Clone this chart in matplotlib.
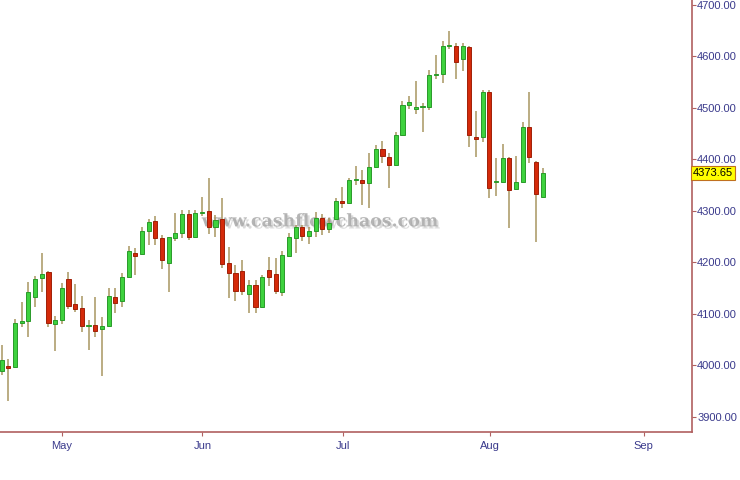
import numpy as np
import matplotlib
matplotlib.use('Agg')
import matplotlib.pyplot as plt
import matplotlib.patheffects as pe

# Dados diários (abertura, máxima, mínima, fechamento)
abertura = [3989, 3999, 3997, 4083, 4085, 4133, 4169, 4182, 4081, 4088,
            4168, 4118, 4111, 4076, 4078, 4070, 4077, 4133, 4125, 4171,
            4218, 4217, 4261, 4280, 4247, 4198, 4248, 4257, 4293, 4250,
            4295, 4300, 4268, 4285, 4198, 4179, 4183, 4138, 4156, 4113,
            4185, 4177, 4143, 4213, 4248, 4268, 4252, 4260, 4286, 4264,
            4284, 4319, 4316, 4359, 4360, 4354, 4385, 4420, 4404, 4389,
            4447, 4506, 4498, 4501, 4501, 4563, 4565, 4621, 4621, 4595,
            4619, 4443, 4444, 4530, 4356, 4357, 4403, 4342, 4357, 4463,
            4395, 4326]
maxima = [4039, 4012, 4089, 4123, 4162, 4173, 4219, 4183, 4096, 4160,
          4181, 4157, 4135, 4088, 4133, 4094, 4151, 4151, 4180, 4232,
          4227, 4268, 4284, 4290, 4253, 4250, 4295, 4302, 4302, 4302,
          4326, 4363, 4292, 4324, 4229, 4195, 4205, 4166, 4166, 4175,
          4210, 4208, 4221, 4256, 4273, 4273, 4268, 4298, 4294, 4287,
          4324, 4347, 4363, 4388, 4379, 4412, 4428, 4436, 4412, 4453,
          4513, 4523, 4552, 4510, 4574, 4602, 4630, 4650, 4626, 4626,
          4621, 4494, 4535, 4535, 4402, 4430, 4405, 4407, 4473, 4531,
          4396, 4384]
minima = [3981, 3931, 3994, 4074, 4055, 4114, 4143, 4074, 4028, 4080,
          4109, 4104, 4065, 4030, 4055, 3979, 4074, 4101, 4113, 4169,
          4175, 4216, 4234, 4234, 4187, 4142, 4241, 4248, 4243, 4248,
          4289, 4255, 4250, 4188, 4130, 4125, 4136, 4101, 4102, 4111,
          4153, 4138, 4135, 4211, 4219, 4241, 4235, 4249, 4254, 4256,
          4282, 4305, 4313, 4350, 4311, 4305, 4383, 4392, 4344, 4388,
          4445, 4498, 4488, 4454, 4496, 4556, 4549, 4615, 4556, 4572,
          4425, 4405, 4434, 4324, 4328, 4355, 4267, 4340, 4355, 4392,
          4239, 4324]
fechamento = [4011, 3995, 4083, 4086, 4142, 4167, 4178, 4083, 4088, 4151,
              4116, 4109, 4077, 4078, 4067, 4076, 4135, 4120, 4172, 4221,
              4213, 4261, 4279, 4247, 4205, 4249, 4256, 4294, 4250, 4295,
              4298, 4268, 4282, 4197, 4179, 4144, 4144, 4156, 4113, 4172,
              4171, 4145, 4214, 4249, 4268, 4252, 4261, 4286, 4265, 4277,
              4320, 4315, 4360, 4361, 4355, 4385, 4420, 4407, 4389, 4447,
              4506, 4512, 4501, 4503, 4563, 4566, 4621, 4623, 4590, 4621,
              4447, 4440, 4530, 4345, 4358, 4402, 4340, 4357, 4462, 4404,
              4332, 4373.65]

# Rótulos dos meses (posição em pregões)
meses = ['May', 'Jun', 'Jul', 'Aug', 'Sep']
pos_meses = [8.98, 30.04, 51.04, 73.05, 96.1]
niveis = [3900, 4000, 4100, 4200, 4300, 4400, 4500, 4600, 4700]

o = np.array(abertura, dtype=float)
h = np.array(maxima, dtype=float)
l = np.array(minima, dtype=float)
c = np.array(fechamento, dtype=float)
x = np.arange(len(o))
alta = c >= o

fig = plt.figure(figsize=(7.4, 4.8), dpi=100)
ax = fig.add_axes([0.0, 0.1006, 0.9347, 0.8994])

# Marca d'água (com sombra leve)
ax.text(0.463, 0.486, 'www.cashflowchaos.com', transform=ax.transAxes,
        fontsize=12.5, color='#a8a8a8', family='DejaVu Serif', fontweight='bold',
        ha='center', va='center', alpha=0.85, zorder=1,
        path_effects=[pe.withSimplePatchShadow(offset=(1.5, -1.5),
                                               shadow_rgbFace='#d8d8d8', alpha=0.9)])

# Pavios
ax.vlines(x, l, h, color='#a89660', linewidth=1.1, zorder=2)

# Corpos
cores = np.where(alta, '#3ed23e', '#d42a0a')
bordas = np.where(alta, '#2a9a2a', '#a02008')
altura = np.where(np.abs(c - o) < 1.5, 1.5 * np.sign(c - o + 0.01), c - o)
ax.bar(x, altura, bottom=o, width=0.62, color=cores, edgecolor=bordas,
       linewidth=0.7, zorder=3)

ax.set_xlim(-0.254, 103.29)
ax.set_ylim(3870.8, 4709.7)

# Eixos e estilo
for lado in ['left', 'top']:
    ax.spines[lado].set_visible(False)
for lado in ['right', 'bottom']:
    ax.spines[lado].set_color('#b06060')
    ax.spines[lado].set_linewidth(1.2)

ax.yaxis.tick_right()
ax.set_yticks(niveis)
ax.set_yticklabels([f'{v:.2f}' for v in niveis])
ax.set_xticks(pos_meses)
ax.set_xticklabels(meses)
ax.tick_params(axis='both', colors='#b06060', labelcolor='#3a3a8c',
               labelsize=8, length=3, width=0.8)
ax.tick_params(axis='x', pad=4)
ax.tick_params(axis='y', pad=1)
for t in ax.get_xticklabels() + ax.get_yticklabels():
    t.set_family('Liberation Sans')

# Último preço
ax.text(1.0015, c[-1], f'{c[-1]:.2f}', transform=ax.get_yaxis_transform(),
        fontsize=8, family='Liberation Sans', color='black', va='center', ha='left',
        bbox=dict(boxstyle='square,pad=0.15', facecolor='#ffff00',
                  edgecolor='#c07020', linewidth=0.8), zorder=5)

plt.savefig('out.png', dpi=100)
